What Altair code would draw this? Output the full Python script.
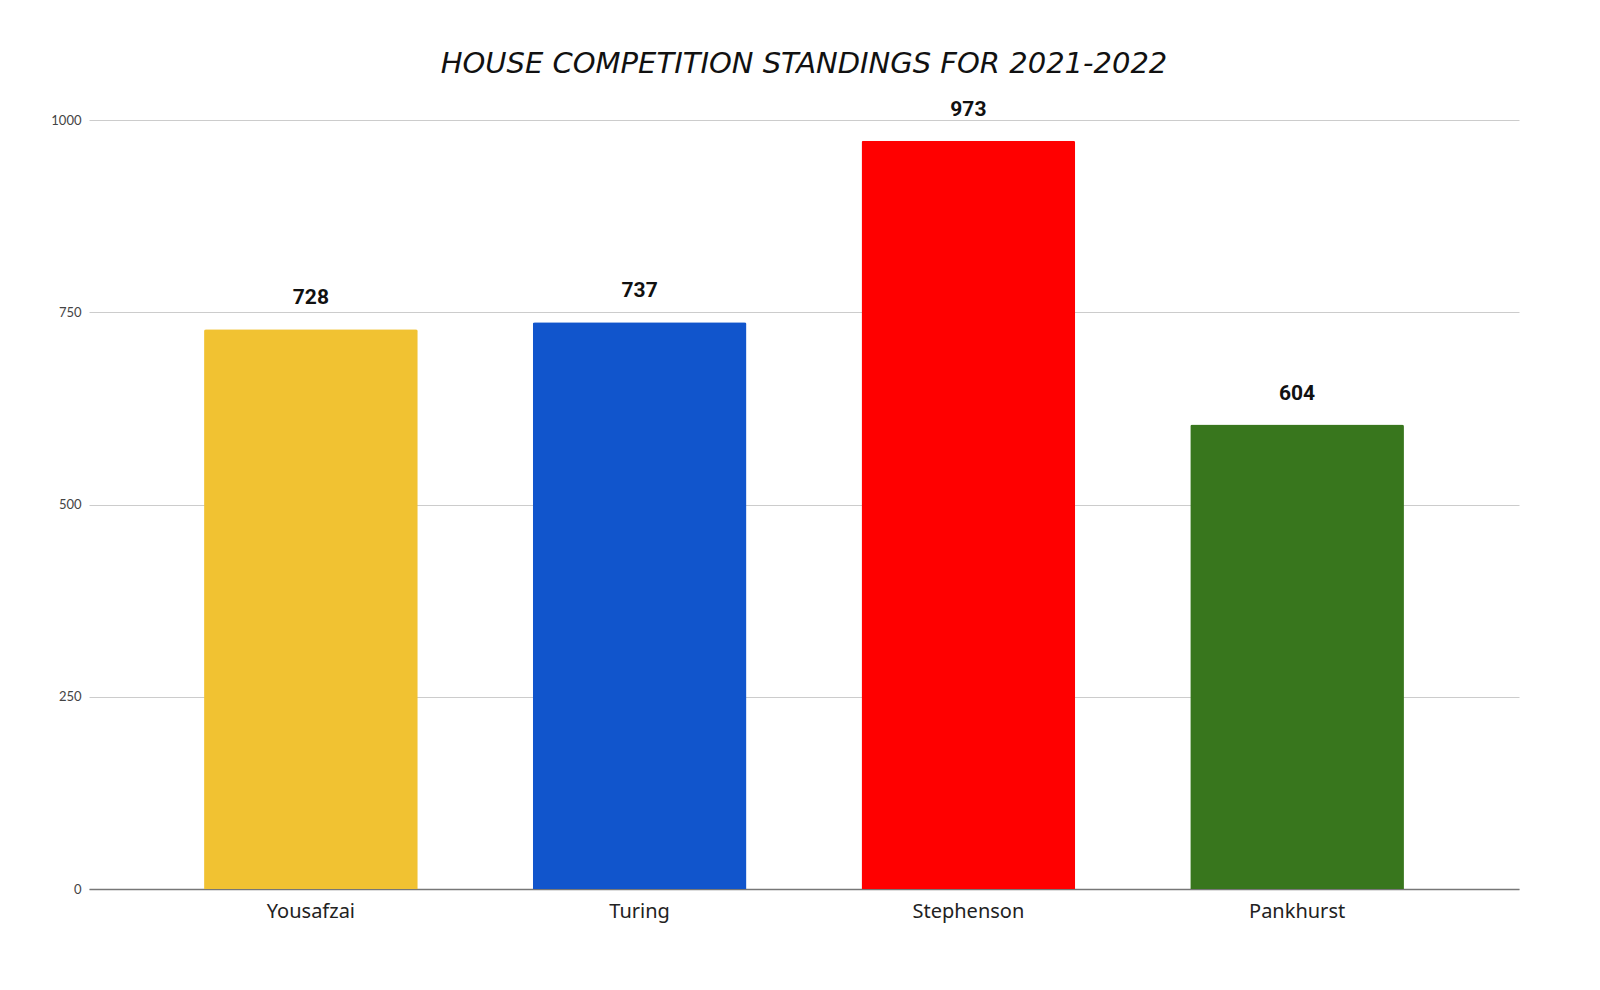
import altair as alt
import pandas as pd

houses = ["Yousafzai", "Turing", "Stephenson", "Pankhurst"]
points = [728, 737, 973, 604]
colors = ["#F1C232", "#1155CC", "#FF0000", "#38761D"]
y_ticks = [0, 250, 500, 750, 1000]

df = pd.DataFrame({"house": houses, "points": points})

x = alt.X("house:N", sort=houses, title=None,
          scale=alt.Scale(paddingInner=0.35, paddingOuter=0.35),
          axis=alt.Axis(labelAngle=0, labelFontSize=20, labelFont="Noto Sans",
                        labelColor="#222222", labelPadding=12, ticks=False,
                        domainColor="#777777", domainWidth=1.5, grid=False))
y = alt.Y("points:Q", title=None,
          scale=alt.Scale(domain=[0, 1000], nice=False),
          axis=alt.Axis(values=y_ticks, format="d", labelFontSize=13, labelFont="Lato",
                        labelColor="#444444", labelPadding=8, ticks=False,
                        domain=False, gridColor="#cccccc", gridWidth=1))

bars = alt.Chart(df).mark_bar(cornerRadiusTopLeft=2, cornerRadiusTopRight=2).encode(
    x=x, y=y,
    color=alt.Color("house:N", scale=alt.Scale(domain=houses, range=colors), legend=None),
)
labels = alt.Chart(df).mark_text(baseline="bottom", dy=-21, fontSize=21,
                                 fontWeight="bold", font="Roboto",
                                 color="#111111").encode(
    x=alt.X("house:N", sort=houses), y="points:Q", text="points:Q")

chart = (bars + labels).properties(
    width=1430, height=769,
    title=alt.TitleParams("HOUSE COMPETITION STANDINGS FOR 2021-2022",
                          fontSize=29, font="DejaVu Sans", fontStyle="italic",
                          fontWeight="normal", color="#111111", offset=20,
                          anchor="middle"),
    autosize=alt.AutoSizeParams(type="none"),
    padding={"left": 81, "top": 112, "right": 20, "bottom": 40},
).configure_view(stroke=None)

chart.save("out.html", embed_options={"renderer": "svg", "actions": False})
